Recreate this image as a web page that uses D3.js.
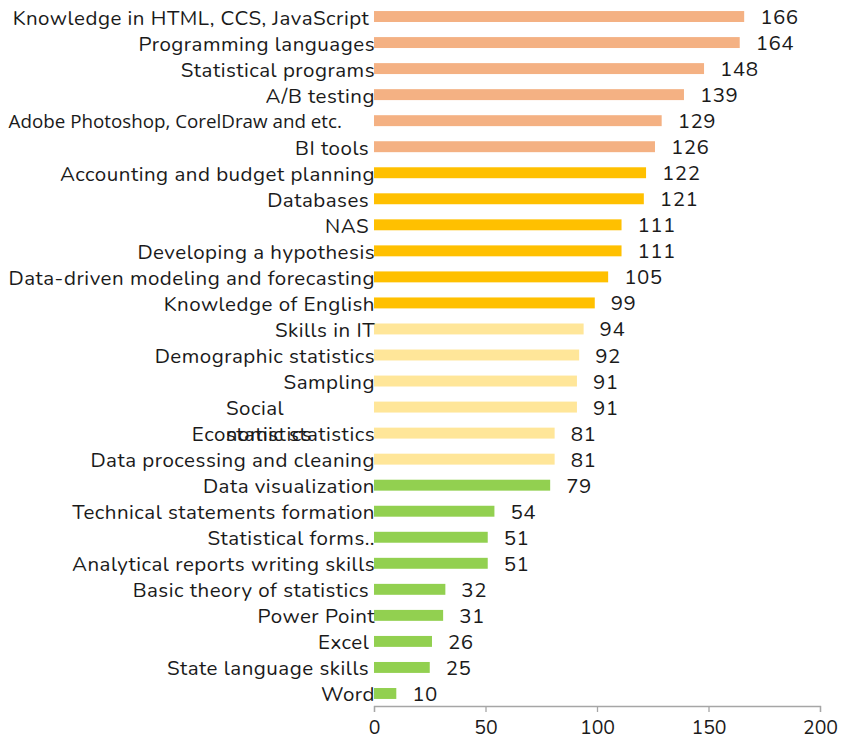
<!DOCTYPE html>
<html><head><meta charset="utf-8">
<script src="https://cdn.jsdelivr.net/npm/d3@7"></script>
<style>
html,body{margin:0;padding:0;background:#fff;}
svg{display:block;}
text{font-family:Nunito, Lato, "Open Sans", sans-serif;fill:#1a1a1a;white-space:pre;}
</style></head><body>
<svg id="chart" width="843" height="742"></svg>
<script>
const categories = [
  "Knowledge in HTML, CCS, JavaScript ","Programming languages","Statistical programs","A/B testing",
  "Adobe Photoshop, CorelDraw and etc.","BI tools ","Accounting and budget planning","Databases ","NAS ",
  "Developing a hypothesis","Data-driven modeling and forecasting","Knowledge of English","Skills in IT",
  "Demographic statistics","Sampling","Social statistics","Economic statistics","Data processing and cleaning",
  "Data visualization","Technical statements formation","Statistical forms..","Analytical reports writing skills",
  "Basic theory of statistics ","Power Point","Excel ","State language skills ","Word"
];
const values = [166,164,148,139,129,126,122,121,111,111,105,99,94,92,91,91,81,81,79,54,51,51,32,31,26,25,10];
const groups = ["a","a","a","a","a","a","b","b","b","b","b","b","c","c","c","c","c","c","d","d","d","d","d","d","d","d","d"];
const groupColors = {a:"#F4B183", b:"#FFC000", c:"#FFE699", d:"#92D050"};
const xTicks = [0,50,100,150,200];

const svg = d3.select("#chart");
const x = d3.scaleLinear().domain([0,200]).range([374,820]);
const y = d3.scaleBand().domain(categories).range([3.5,706.5]).paddingInner(0.58).paddingOuter(0.29);

const data = categories.map((c,i)=>({cat:c, v:values[i], g:groups[i]}));

svg.selectAll("rect.bar").data(data).enter().append("rect")
  .attr("class","bar")
  .attr("x", x(0))
  .attr("y", d=>y(d.cat))
  .attr("width", d=>x(d.v)-x(0))
  .attr("height", y.bandwidth())
  .attr("fill", d=>groupColors[d.g]);

// category labels
const lbl = svg.selectAll("text.lbl").data(data).enter().append("text")
  .attr("class","lbl")
  .attr("xml:space","preserve");
lbl.each(function(d){
  const t = d3.select(this);
  const cy = y(d.cat) + y.bandwidth()/2;
  if (d.cat === "Social statistics") {
    t.attr("font-size",20.5).style("letter-spacing","0.5px")
     .attr("text-anchor","start").attr("x", 226).attr("y", cy+8);
    t.append("tspan").attr("x",226).text("Social");
    t.append("tspan").attr("x",226).attr("dy", 26).text("statistics");
  } else if (d.cat.startsWith("Adobe")) {
    t.attr("font-size",18.8).style("font-family","'Open Sans', 'Noto Sans', sans-serif")
     .attr("text-anchor","end").attr("x", 342).attr("y", cy+7).text(d.cat);
  } else {
    t.attr("font-size",20.5).style("letter-spacing","0.5px")
     .attr("text-anchor","end").attr("x", x(0)+1).attr("y", cy + 8).text(d.cat);
  }
});

// value labels
svg.selectAll("text.val").data(data).enter().append("text")
  .attr("class","val")
  .attr("font-size", 20.5)
  .style("letter-spacing","0.5px")
  .attr("x", d=>x(d.v)+16)
  .attr("y", d=>y(d.cat)+y.bandwidth()/2+7.5)
  .text(d=>d.v);

// axis
const axis = svg.append("g").attr("transform","translate(0,706)")
  .call(d3.axisBottom(x).tickValues(xTicks).tickSize(6).tickPadding(8));
axis.select(".domain").attr("stroke","#a6a6a6").attr("stroke-width",1.3);
axis.selectAll(".tick line").attr("stroke","#a6a6a6").attr("stroke-width",1.3);
axis.selectAll(".tick text").attr("font-size",19.5).attr("fill","#1a1a1a").style("font-family","Nunito, Lato, sans-serif");
</script>
</body></html>
